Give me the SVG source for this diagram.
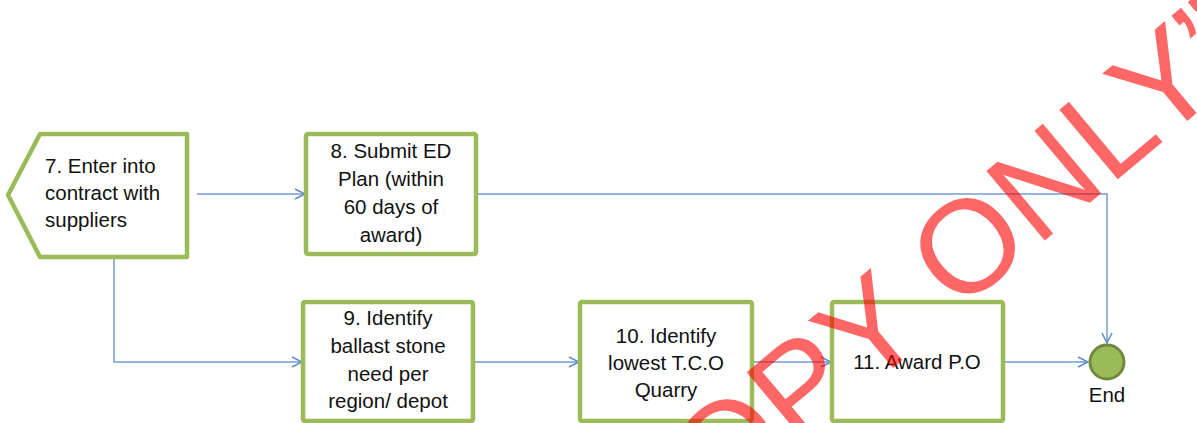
<svg xmlns="http://www.w3.org/2000/svg" width="1197" height="423" viewBox="0 0 1197 423">
<defs>
<style>
.box{fill:#fff;stroke:#9BBB59;stroke-width:4.5;stroke-linejoin:round}
.lbl{font-family:"Liberation Sans",Arial,sans-serif;font-size:20.5px;fill:#111}
.c{text-anchor:middle}
.conn{fill:none;stroke:#5B8BC9;stroke-width:1.5;stroke-opacity:0.85}
.wm{font-family:"Liberation Sans",Arial,sans-serif;font-size:132px;fill:#FF0000;fill-opacity:0.6}
</style>
<marker id="arr" viewBox="0 0 12 12" refX="11" refY="6" markerWidth="12" markerHeight="12" markerUnits="userSpaceOnUse" orient="auto">
<path d="M1,1 L11,6 L1,11" fill="none" stroke="#5B8BC9" stroke-width="1.5"/>
</marker>
</defs>
<rect width="1197" height="423" fill="#fff"/>
<g id="connectors">
<path class="conn" d="M197,194 H305" marker-end="url(#arr)"/>
<path class="conn" d="M478,194 H1107 V343" marker-end="url(#arr)"/>
<path class="conn" d="M114,259 V362 H302" marker-end="url(#arr)"/>
<path class="conn" d="M475,362 H579" marker-end="url(#arr)"/>
<path class="conn" d="M754,362 H831" marker-end="url(#arr)"/>
<path class="conn" d="M1005,362 H1088" marker-end="url(#arr)"/>
</g>
<g id="node7">
<polygon class="box" points="8,195 40,134 187,134 187,257 40,257"/>
<text class="lbl" x="45" y="173">7. Enter into</text>
<text class="lbl" x="45" y="200">contract with</text>
<text class="lbl" x="45" y="227">suppliers</text>
</g>
<g id="node8">
<rect class="box" x="306" y="134" width="170" height="120" rx="2"/>
<text class="lbl c" x="391" y="158">8. Submit ED</text>
<text class="lbl c" x="391" y="186">Plan (within</text>
<text class="lbl c" x="391" y="214">60 days of</text>
<text class="lbl c" x="391" y="242">award)</text>
</g>
<g id="node9">
<rect class="box" x="303" y="302" width="170" height="119" rx="2"/>
<text class="lbl c" x="388" y="325">9. Identify</text>
<text class="lbl c" x="388" y="353">ballast stone</text>
<text class="lbl c" x="388" y="381">need per</text>
<text class="lbl c" x="388" y="408">region/ depot</text>
</g>
<g id="node10">
<rect class="box" x="580" y="302" width="172" height="119" rx="2"/>
<text class="lbl c" x="666" y="343">10. Identify</text>
<text class="lbl c" x="666" y="370">lowest T.C.O</text>
<text class="lbl c" x="666" y="397">Quarry</text>
</g>
<g id="node11">
<rect class="box" x="832" y="302" width="171" height="119" rx="2"/>
<text class="lbl c" x="917" y="369">11. Award P.O</text>
</g>
<g id="end">
<circle cx="1107" cy="362" r="17" fill="#9BBB59" stroke="#71893F" stroke-width="3"/>
<text class="lbl c" x="1107" y="402" font-size="20">End</text>
</g>
<text class="wm" transform="translate(645,576) rotate(-40)">COPY ONLY”</text>
</svg>
